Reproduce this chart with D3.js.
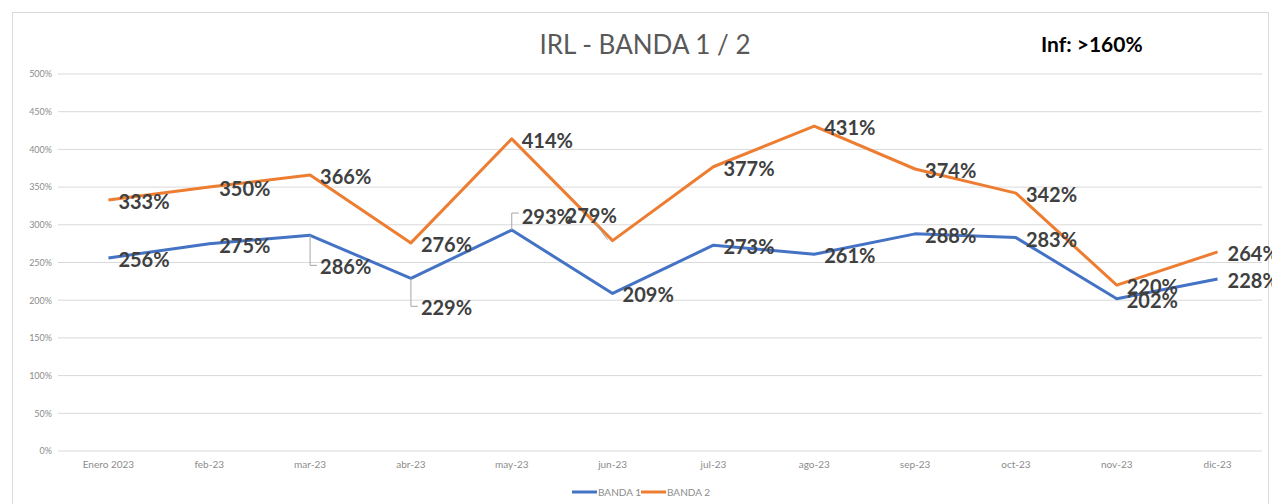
<!DOCTYPE html>
<html>
<head>
<meta charset="utf-8">
<script src="https://cdn.jsdelivr.net/npm/d3@7"></script>
<style>
  body { margin: 0; background: #fff; }
  svg { display: block; font-family: Lato, "Open Sans", sans-serif; }
</style>
</head>
<body>
<svg id="chart" width="1272" height="504"></svg>
<script>
// chart values
var months = ["Enero 2023","feb-23","mar-23","abr-23","may-23","jun-23","jul-23","ago-23","sep-23","oct-23","nov-23","dic-23"];
var banda1 = [256,275,286,229,293,209,273,261,288,283,202,228];
var banda2 = [333,350,366,276,414,279,377,431,374,342,220,264];
var seriesNames = ["BANDA 1","BANDA 2"];
var yTicks = [0,50,100,150,200,250,300,350,400,450,500];

// labels that excel moved away from their default spot (pixel nudges + leader)
var labelNudge = {
  "0-2": {dx: 10, dy: 32},
  "0-3": {dx: 10, dy: 30},
  "0-4": {dx: 10, dy: -13},
  "1-5": {dx: -47, dy: -25}
};

var colors = ["#4472C4","#ED7D31"];
var svg = d3.select("#chart");

// frame
svg.append("rect")
  .attr("x", 12.5).attr("y", 12.5)
  .attr("width", 1256).attr("height", 500)
  .attr("fill", "#fff").attr("stroke", "#d9d9d9");

var margin = {left: 58, right: 1268, top: 74, bottom: 451};

var x = d3.scaleBand().domain(months).range([margin.left, margin.right]);
var y = d3.scaleLinear().domain([0, 500]).range([margin.bottom, margin.top]);

// gridlines
svg.append("g").selectAll("line").data(yTicks).join("line")
  .attr("x1", margin.left).attr("x2", 1262)
  .attr("y1", function(d){ return y(d); }).attr("y2", function(d){ return y(d); })
  .attr("stroke", "#d9d9d9").attr("stroke-width", 1);

// y axis labels
var yAxis = d3.axisLeft(y).tickValues(yTicks).tickSize(0).tickPadding(6)
  .tickFormat(function(d){ return d + "%"; });
var yg = svg.append("g").attr("transform", "translate(" + margin.left + ",0)").call(yAxis);
yg.select(".domain").remove();
yg.selectAll("text").attr("fill", "#8c8c8c").style("font-size", "9px")
  .style("font-family", "Lato, sans-serif");

// x axis labels
var xAxis = d3.axisBottom(x).tickSize(0).tickPadding(10);
var xg = svg.append("g").attr("transform", "translate(0," + margin.bottom + ")").call(xAxis);
xg.select(".domain").remove();
xg.selectAll("text").attr("fill", "#8c8c8c").style("font-size", "10px")
  .style("font-family", "Lato, sans-serif");

// lines
var series = [banda1, banda2];
var line = d3.line()
  .x(function(d, i){ return x(months[i]) + x.bandwidth() / 2; })
  .y(function(d){ return y(d); });

series.forEach(function(s, k){
  svg.append("path").datum(s)
    .attr("d", line)
    .attr("fill", "none")
    .attr("stroke", colors[k])
    .attr("stroke-width", 3)
    .attr("stroke-linejoin", "round");
});

// data labels
series.forEach(function(s, k){
  var g = svg.append("g");
  s.forEach(function(v, i){
    var px = x(months[i]) + x.bandwidth() / 2;
    var py = y(v);
    var n = labelNudge[k + "-" + i];
    var lx = px + (n ? n.dx : 10);
    var ly = py + (n ? n.dy : 2);
    if (n) {
      var pts;
      if (n.dx > 0 && n.dy > 0) pts = [[px, py], [px, ly - 2], [lx - 3, ly - 2]];
      else if (n.dx > 0) pts = [[px, py], [px, ly - 4], [lx - 3, ly - 4]];
      else pts = [[lx + 30, ly + 8], [px - 5, py - 1]];
      g.append("path").attr("d", d3.line()(pts))
        .attr("fill", "none").attr("stroke", "#a6a6a6").attr("stroke-width", 1);
    }
    g.append("text")
      .attr("x", lx).attr("y", ly)
      .attr("dy", "0.35em")
      .attr("fill", "#404040")
      .style("font-size", "20px").style("font-weight", "bold")
      .text(v + "%");
  });
});

// title
svg.append("text")
  .attr("x", 645).attr("y", 45)
  .attr("dy", "0.35em").attr("text-anchor", "middle")
  .attr("fill", "#595959").style("font-size", "26px")
  .text("IRL - BANDA 1 / 2");

svg.append("text")
  .attr("x", 1041).attr("y", 45)
  .attr("dy", "0.35em")
  .attr("fill", "#000").style("font-size", "21px").style("font-weight", "bold")
  .text("Inf: >160%");

// legend
var leg = svg.append("g").attr("transform", "translate(572,492)");
seriesNames.forEach(function(name, k){
  var gx = k * 69;
  leg.append("line").attr("x1", gx).attr("x2", gx + 25).attr("y1", 0).attr("y2", 0)
    .attr("stroke", colors[k]).attr("stroke-width", 3);
  leg.append("text").attr("x", gx + 26).attr("y", 0).attr("dy", "0.35em")
    .attr("fill", "#8c8c8c").style("font-size", "10px").text(name);
});
</script>
</body>
</html>
